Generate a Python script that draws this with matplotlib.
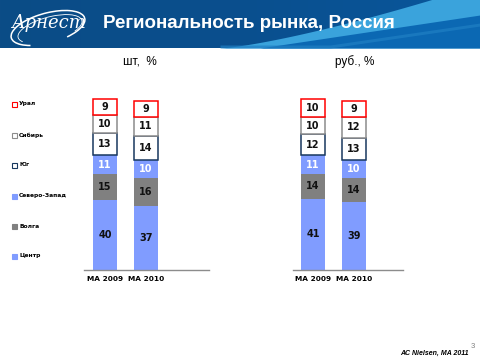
import numpy as np
import matplotlib
matplotlib.use("Agg")
import matplotlib.pyplot as plt
from matplotlib.patches import Arc, Rectangle
from matplotlib.colors import LinearSegmentedColormap

# data: shares by region, bottom to top
regions = ["Центр", "Волга", "Северо-Запад", "Юг", "Сибирь", "Урал"]
periods = ["MA 2009", "MA 2010"]
units_2009 = [40, 15, 11, 13, 10, 9]
units_2010 = [37, 16, 10, 14, 11, 9]
rub_2009 = [41, 14, 11, 12, 10, 10]
rub_2010 = [39, 14, 10, 13, 12, 9]

fills = ["#809cff", "#808080", "#809cff", "white", "white", "white"]
edges = ["#809cff", "#808080", "#809cff", "#17375e", "#8c8c8c", "#ff0000"]
txtcol = ["#111111", "#111111", "white", "#111111", "#111111", "#111111"]

W, H = 480, 360
fig = plt.figure(figsize=(4.8, 3.6), dpi=100)
plt.rcParams['font.family'] = ['Liberation Sans', 'DejaVu Sans']
VERD = ["DejaVu Sans"]

# header banner
hb = fig.add_axes([0, 1 - 48 / H, 1, 48 / H])
grad = np.linspace(0, 1, 256).reshape(1, -1)
cm = LinearSegmentedColormap.from_list("b", ["#0b4c86", "#0a4f8e", "#09579c"])
hb.imshow(grad, extent=[0, W, 48, 0], aspect="auto", cmap=cm)
xs = np.linspace(220, 480, 300)
top = 48 - 48 * np.clip((xs - 220) / 210, 0, None) ** 1.3
low = np.minimum(48, 48 - 33 * np.clip((xs - 260) / 220, 0, None))
hb.fill_between(xs, top, 48, color="#3aa3dc", lw=0)
hb.fill_between(xs, low, 48, color="#0b68b3", lw=0)
low2 = np.minimum(48, 48 - 22 * np.clip((xs - 330) / 150, 0, None))
hb.fill_between(xs, low2 - 3, low2, color="#1f7fc4", lw=0, alpha=0.7)
hb.set_xlim(0, W)
hb.set_ylim(48, 0)
hb.axis("off")
hb.add_patch(Arc((48, 28), 76, 30, angle=-15, theta1=150, theta2=400, ec="white", lw=1.1))
hb.add_patch(Arc((50, 29), 66, 24, angle=-15, theta1=170, theta2=380, ec="white", lw=0.6))
hb.text(48, 23, "Арнест", color="white", fontsize=13, style="italic",
        family=["DejaVu Serif"], ha="center", va="center")
hb.text(103, 24, "Региональность рынка, Россия", color="white", fontsize=13.5,
        fontweight="bold", ha="left", va="center")

def stacked(ax, vals09, vals10):
    x = np.arange(len(periods))
    bottom = np.zeros(2)
    for i, r in enumerate(regions):
        v = np.array([vals09[i], vals10[i]], dtype=float)
        ax.bar(x, v, 0.585, bottom=bottom, color=fills[i], edgecolor=edges[i],
               linewidth=1.1 if i >= 3 else 0)
        for xi, vi, bi in zip(x, v, bottom):
            ax.text(xi, bi + vi / 2, str(int(vi)), ha="center", va="center",
                    fontsize=7, fontweight="bold", color=txtcol[i], family=VERD)
        bottom = bottom + v
    ax.set_ylim(0, 175 / 1.74)
    ax.set_xticks(x)
    ax.set_xticklabels(periods, fontsize=5.3, fontweight="bold", family=VERD)
    ax.tick_params(length=0, pad=4)
    ax.set_yticks([])
    for s in ["top", "right", "left"]:
        ax.spines[s].set_visible(False)
    ax.spines["bottom"].set_color("#8c8c8c")
    ax.spines["bottom"].set_linewidth(1.0)

ax1 = fig.add_axes([84 / W, 90 / H, 125 / W, 175 / H])
stacked(ax1, units_2009, units_2010)
ax1.set_xlim(-0.512, 2.537)

ax2 = fig.add_axes([293 / W, 90 / H, 110 / W, 175 / H])
stacked(ax2, rub_2009, rub_2010)
ax2.set_xlim(-0.49, 2.2)

fig.text(140 / W, 1 - 62 / H, "шт,  %", fontsize=8.5, ha="center", va="center")
fig.text(355 / W, 1 - 62 / H, "руб., %", fontsize=8.5, ha="center", va="center")

# legend down the left side
leg_y = [256, 226, 196, 165, 135, 104]
for r, y, fc, ec in zip(regions, leg_y, fills, edges):
    fig.patches.append(Rectangle((12 / W, 1 - (y + 2.5) / H), 5 / W, 5 / H,
                                 transform=fig.transFigure, fc=fc, ec=ec, lw=0.8))
    fig.text(19 / W, 1 - y / H, r, fontsize=4.3, fontweight="bold", ha="left",
             va="center", family=VERD)

fig.text(469 / W, 1 - 353 / H, "AC Nielsen, MA 2011", fontsize=5, style="italic",
         fontweight="bold", ha="right", va="center")
fig.text(471 / W, 1 - 346 / H, "3", fontsize=5.5, color="#808080", ha="left",
         va="center")

fig.savefig("out.png", dpi=100)
